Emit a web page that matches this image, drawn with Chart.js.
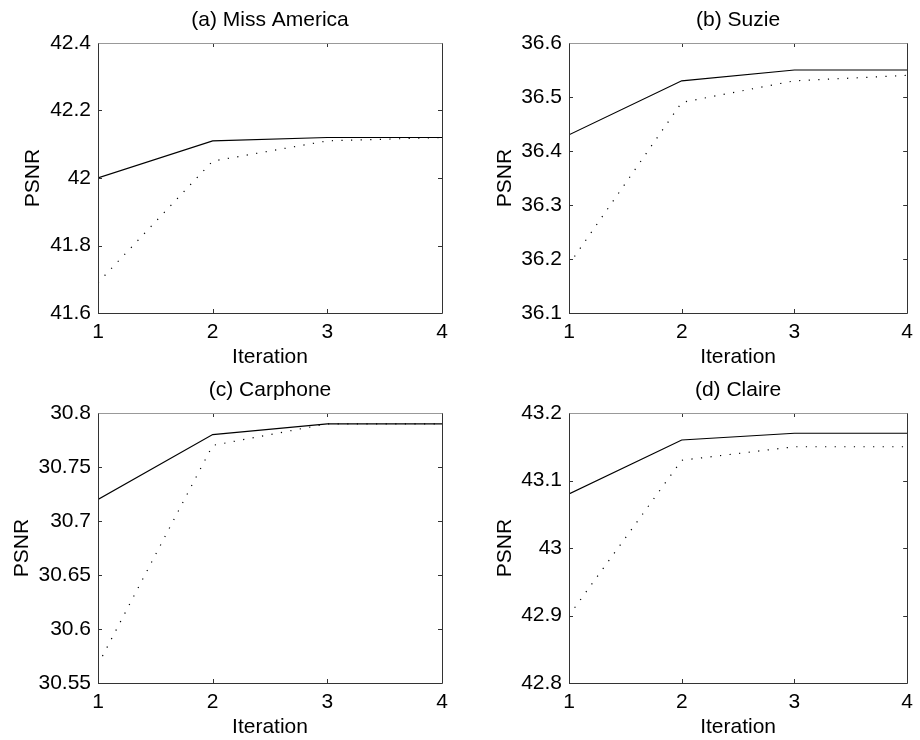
<!DOCTYPE html>
<html>
<head>
<meta charset="utf-8">
<script src="https://cdn.jsdelivr.net/npm/chart.js@4.4.1/dist/chart.umd.min.js"></script>
<style>
  html, body { margin: 0; padding: 0; background: #fff; }
  #wrap { position: relative; width: 920px; height: 740px; }
  .cell { position: absolute; width: 460px; height: 370px; }
</style>
</head>
<body>
<div id="wrap">
  <div class="cell" style="left:0;top:0"><canvas id="chartA"></canvas></div>
  <div class="cell" style="left:460px;top:0"><canvas id="chartB"></canvas></div>
  <div class="cell" style="left:0;top:370px"><canvas id="chartC"></canvas></div>
  <div class="cell" style="left:460px;top:370px"><canvas id="chartD"></canvas></div>
</div>
<script>
// === DATA ===
const iterations = [1, 2, 3, 4];

const missSolid  = [42.00, 42.11, 42.12, 42.12];
const missDotted = [41.69, 42.05, 42.11, 42.12];
const missTicks  = [41.6, 41.8, 42.0, 42.2, 42.4];

const suzieSolid  = [36.43, 36.53, 36.55, 36.55];
const suzieDotted = [36.19, 36.49, 36.53, 36.54];
const suzieTicks  = [36.1, 36.2, 36.3, 36.4, 36.5, 36.6];

const carSolid  = [30.72, 30.78, 30.79, 30.79];
const carDotted = [30.567, 30.77, 30.79, 30.79];
const carTicks  = [30.55, 30.6, 30.65, 30.7, 30.75, 30.8];

const claireSolid  = [43.08, 43.16, 43.17, 43.17];
const claireDotted = [42.90, 43.13, 43.15, 43.15];
const claireTicks  = [42.8, 42.9, 43.0, 43.1, 43.2];

const FONT = "'Liberation Sans', Arial, Helvetica, sans-serif";

// marco tipo MATLAB: caja completa y marcas hacia dentro
const matlabBox = {
  id: "matlabBox",
  afterDatasetsDraw(chart) {
    const { ctx, chartArea: a, scales } = chart;
    const L = 4;
    ctx.save();
    ctx.lineWidth = 1;
    ctx.strokeStyle = "#333";
    ctx.beginPath();
    scales.x.ticks.forEach(t => {
      const px = Math.round(scales.x.getPixelForValue(t.value)) + 0.5;
      ctx.moveTo(px, a.bottom); ctx.lineTo(px, a.bottom - L);
      ctx.moveTo(px, a.top); ctx.lineTo(px, a.top + L);
    });
    scales.y.ticks.forEach(t => {
      const py = Math.round(scales.y.getPixelForValue(t.value)) + 0.5;
      ctx.moveTo(a.left, py); ctx.lineTo(a.left + L, py);
      ctx.moveTo(a.right, py); ctx.lineTo(a.right - L, py);
    });
    ctx.stroke();
    const l = Math.round(a.left) + 0.5, r = Math.round(a.right) + 0.5;
    const t = Math.round(a.top) + 0.5, b = Math.round(a.bottom) + 0.5;
    ctx.beginPath();
    ctx.moveTo(l, t); ctx.lineTo(l, b); ctx.lineTo(r, b); ctx.lineTo(r, t);
    ctx.stroke();
    ctx.strokeStyle = "#999";
    ctx.beginPath();
    ctx.moveTo(l, t); ctx.lineTo(r, t);
    ctx.stroke();
    ctx.restore();
  },
};

function makeChart(id, title, solid, dotted, yTicks, yWidth, padRight, yTitlePad) {
  const font = { family: FONT, size: 21, lineHeight: 1.2, weight: "normal" };
  return new Chart(document.getElementById(id), {
    type: "line",
    data: {
      datasets: [
        {
          data: iterations.map((x, i) => ({ x: x, y: solid[i] })),
          borderColor: "#000",
          borderWidth: 1.2,
          pointRadius: 0,
          fill: false,
        },
        {
          data: iterations.map((x, i) => ({ x: x, y: dotted[i] })),
          borderColor: "#000",
          borderWidth: 1.2,
          borderDash: [1.2, 8.4],
          pointRadius: 0,
          fill: false,
        },
      ],
    },
    options: {
      responsive: true,
      maintainAspectRatio: false,
      animation: false,
      layout: { padding: { left: 0, right: padRight, top: 0, bottom: 0 } },
      plugins: {
        legend: { display: false },
        tooltip: { enabled: false },
        title: {
          display: true,
          text: title,
          color: "#000",
          font: font,
          fullSize: false,
          padding: { top: 7.4, bottom: 10.4 },
        },
      },
      scales: {
        x: {
          type: "linear",
          min: iterations[0],
          max: iterations[iterations.length - 1],
          grid: { display: false, drawTicks: false },
          border: { display: false },
          afterBuildTicks: s => { s.ticks = iterations.map(v => ({ value: v })); },
          afterFit: s => { s.height = 57; },
          ticks: { color: "#000", font: font, padding: 7, callback: v => String(v) },
          title: { display: true, text: "Iteration", color: "#000", font: font, padding: { top: 0, bottom: 0 } },
        },
        y: {
          min: yTicks[0],
          max: yTicks[yTicks.length - 1],
          grid: { display: false, drawTicks: false },
          border: { display: false },
          afterBuildTicks: s => { s.ticks = yTicks.map(v => ({ value: v })); },
          afterFit: s => { s.width = yWidth; },
          ticks: { color: "#000", font: font, padding: 7, callback: v => String(+v.toFixed(2)) },
          title: { display: true, text: "PSNR", color: "#000", font: font, padding: { top: yTitlePad, bottom: 0 } },
        },
      },
    },
    plugins: [matlabBox],
  });
}

makeChart("chartA", "(a) Miss America", missSolid, missDotted, missTicks, 98, 18, 20.4);
makeChart("chartB", "(b) Suzie", suzieSolid, suzieDotted, suzieTicks, 109, 8, 32.4);
makeChart("chartC", "(c) Carphone", carSolid, carDotted, carTicks, 98, 18, 9.4);
makeChart("chartD", "(d) Claire", claireSolid, claireDotted, claireTicks, 109, 8, 32.4);
</script>
</body>
</html>
